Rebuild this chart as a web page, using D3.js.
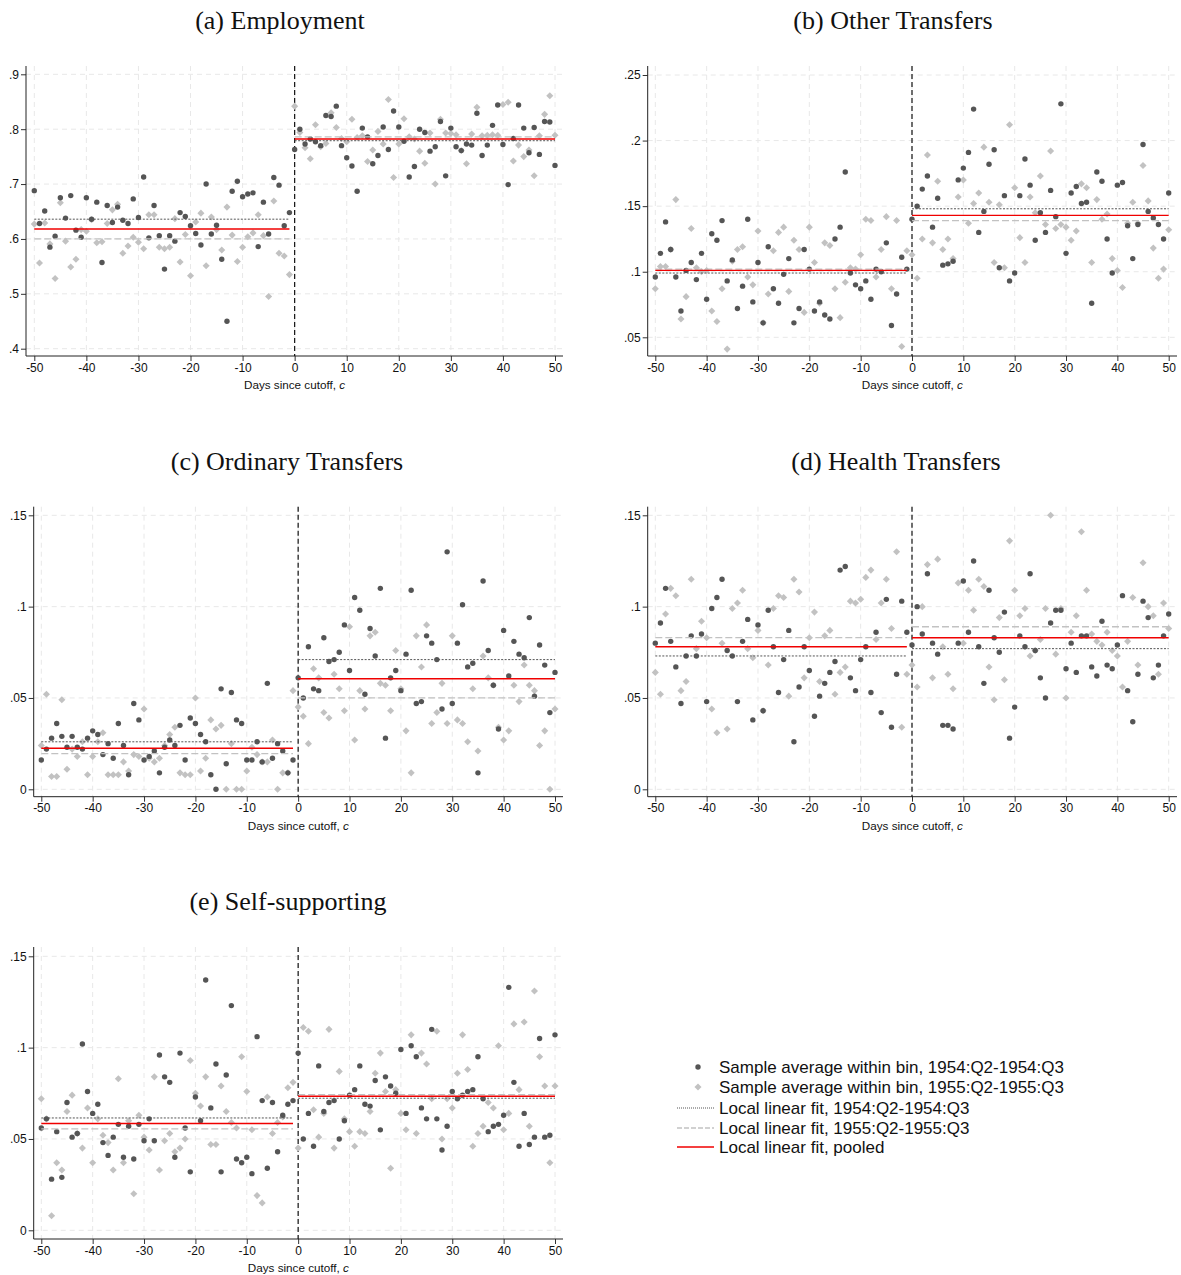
<!DOCTYPE html>
<html>
<head>
<meta charset="utf-8">
<script src="https://cdn.jsdelivr.net/npm/d3@7"></script>
<style>
  body { margin: 0; background: #fff; }
  svg { display: block; }
  .tick text { font-family: "Liberation Sans", Arial, sans-serif; font-size: 12px; fill: #111; }
  .tick line { stroke: #333; }
</style>
</head>
<body>
<div id="viz"></div>
<script>
// days since cutoff, -50 .. 50
const DAYS = d3.range(-50, 51);
const X_TICKS = [-50, -40, -30, -20, -10, 0, 10, 20, 30, 40, 50];

// (a) Employment
const empDark = [.688,.628,.651,.585,.605,.675,.638,.679,.616,.603,
  .675,.636,.667,.557,.661,.630,.658,.634,.628,.673,
  .639,.713,.602,.661,.606,.545,.606,.596,.648,.641,
  .624,.610,.589,.700,.609,.625,.563,.450,.687,.705,
  .677,.682,.684,.586,.667,.609,.712,.698,.624,.648,
  .763,
  .800,.773,.782,.777,.770,.825,.823,.842,.770,.748,
  .733,.687,.802,.786,.737,.752,.804,.763,.833,.804,
  .778,.713,.732,.800,.794,.760,.768,.814,.715,.802,
  .768,.761,.773,.771,.829,.752,.771,.807,.844,.772,
  .699,.783,.844,.802,.757,.803,.754,.814,.813,.734];
const empLight = [.627,.556,.629,.591,.528,.666,.596,.549,.563,.617,
  .614,.635,.593,.595,.628,.653,.663,.574,.587,.603,
  .594,.582,.644,.644,.585,.582,.585,.637,.558,.608,
  .533,.631,.647,.551,.640,.617,.580,.658,.607,.559,
  .585,.604,.611,.644,.606,.495,.669,.574,.569,.535,
  .842,
  .794,.766,.746,.808,.768,.774,.830,.803,.783,.777,
  .818,.785,.788,.741,.762,.796,.773,.854,.712,.773,
  .819,.786,.782,.760,.738,.793,.700,.818,.793,.792,
  .790,.761,.737,.791,.840,.788,.789,.790,.789,.845,
  .849,.742,.771,.750,.762,.715,.788,.827,.861,.789];
const empFitDark = [.636, .779];
const empFitLight = [.600, .786];
const empFitPooled = [.618, .782];
const empTicks = [.4, .5, .6, .7, .8, .9];

// (b) Other Transfers
const othDark = [.096,.114,.138,.117,.096,.070,.101,.107,.094,.114,
  .079,.129,.124,.139,.093,.109,.072,.089,.140,.077,
  .107,.061,.119,.087,.076,.098,.110,.061,.072,.117,
  .102,.070,.077,.067,.064,.125,.134,.176,.099,.090,
  .087,.093,.079,.102,.100,.122,.059,.083,.111,.102,
  .140,
  .150,.163,.173,.134,.156,.105,.106,.108,.170,.179,
  .191,.224,.130,.146,.182,.193,.103,.158,.093,.099,
  .158,.186,.166,.124,.145,.130,.162,.142,.228,.114,
  .160,.165,.152,.153,.076,.176,.169,.125,.099,.166,
  .168,.135,.110,.136,.197,.146,.141,.136,.125,.160];
const othLight = [.087,.104,.104,.117,.155,.064,.081,.133,.103,.100,
  .101,.070,.062,.087,.041,.108,.117,.119,.096,.090,
  .131,.061,.083,.116,.130,.134,.085,.124,.117,.069,
  .134,.107,.076,.122,.120,.087,.065,.092,.103,.102,
  .113,.140,.139,.096,.117,.142,.087,.139,.043,.116,
  .113,
  .095,.125,.189,.122,.169,.117,.125,.110,.157,.170,
  .137,.152,.160,.195,.153,.107,.151,.103,.212,.164,
  .126,.107,.157,.145,.173,.136,.192,.133,.136,.134,
  .124,.131,.167,.164,.107,.155,.140,.144,.110,.101,
  .088,.137,.153,.137,.181,.154,.118,.095,.102,.132];
const othFitDark = [.099, .148];
const othFitLight = [.102, .139];
const othFitPooled = [.101, .143];
const othTicks = [.05, .1, .15, .2, .25];

// (c) Ordinary Transfers
const ordDark = [.016,.022,.028,.036,.029,.023,.029,.023,.022,.028,
  .032,.030,.019,.025,.017,.036,.024,.008,.047,.038,
  .016,.018,.021,.009,.023,.027,.024,.035,.016,.039,
  .036,.030,.026,.008,.000,.055,.014,.053,.038,.036,
  .016,.016,.026,.015,.058,.017,.025,.021,.009,.016,
  .061,
  .050,.078,.055,.054,.083,.070,.071,.075,.090,.065,
  .105,.098,.052,.088,.073,.110,.028,.061,.065,.054,
  .074,.109,.047,.048,.084,.080,.071,.044,.130,.047,
  .080,.101,.067,.069,.009,.114,.076,.057,.033,.087,
  .062,.081,.074,.072,.094,.051,.079,.068,.042,.064];
const ordLight = [.024,.052,.007,.007,.049,.011,.022,.018,.026,.008,
  .018,.026,.031,.008,.008,.008,.015,.010,.019,.018,
  .044,.017,.015,.017,.024,.030,.034,.009,.008,.008,
  .050,.010,.017,.038,.033,.035,.000,.025,.000,.000,
  .010,.023,.019,.015,.015,.027,.000,.009,.009,.054,
  .045,
  .040,.025,.066,.061,.042,.039,.063,.055,.043,.089,
  .027,.054,.044,.084,.086,.058,.057,.043,.076,.055,
  .032,.009,.084,.067,.090,.036,.042,.058,.036,.084,
  .038,.036,.026,.055,.021,.073,.061,.057,.034,.027,
  .032,.057,.048,.068,.057,.054,.024,.032,.000,.044];
const ordFitDark = [.026, .071];
const ordFitLight = [.0195, .050];
const ordFitPooled = [.0225, .0605];

// (d) Health Transfers
const hltDark = [.080,.091,.110,.081,.067,.047,.073,.084,.073,.085,
  .048,.099,.105,.115,.076,.073,.048,.081,.093,.038,
  .090,.043,.098,.078,.053,.071,.087,.026,.056,.078,
  .065,.040,.051,.058,.064,.070,.120,.122,.061,.054,
  .071,.078,.053,.086,.042,.104,.034,.063,.103,.086,
  .079,
  .100,.085,.118,.080,.074,.035,.035,.033,.080,.114,
  .086,.125,.078,.058,.109,.083,.075,.097,.028,.045,
  .084,.078,.118,.076,.061,.050,.091,.098,.098,.066,
  .080,.064,.084,.084,.067,.062,.092,.068,.066,.079,
  .106,.054,.037,.063,.103,.094,.061,.068,.084,.096];
const hltLight = [.064,.052,.096,.110,.106,.054,.059,.115,.077,.092,
  .083,.044,.031,.080,.033,.099,.102,.109,.077,.072,
  .087,.043,.068,.099,.106,.105,.051,.115,.108,.061,
  .083,.097,.059,.084,.087,.052,.064,.067,.103,.102,
  .104,.116,.120,.082,.102,.115,.088,.130,.034,.063,
  .068,
  .056,.100,.123,.061,.126,.078,.063,.055,.113,.080,
  .109,.098,.115,.111,.067,.049,.094,.060,.136,.109,
  .095,.099,.073,.076,.082,.099,.150,.074,.099,.050,
  .086,.095,.141,.109,.085,.081,.079,.086,.076,.073,
  .056,.081,.105,.068,.124,.100,.095,.063,.102,.088];
const hltFitDark = [.073, .077];
const hltFitLight = [.083, .089];
const hltFitPooled = [.078, .083];

// (e) Self-supporting
const selfDark = [.056,.061,.028,.054,.029,.070,.051,.053,.102,.076,
  .064,.069,.048,.041,.051,.058,.040,.057,.039,.058,
  .049,.061,.049,.096,.084,.081,.040,.097,.056,.032,
  .073,.060,.137,.067,.091,.032,.085,.123,.039,.037,
  .040,.031,.106,.071,.034,.070,.043,.063,.069,.071,
  .097,
  .050,.064,.046,.090,.065,.070,.071,.050,.060,.074,
  .077,.090,.069,.068,.082,.055,.084,.079,.075,.099,
  .064,.101,.095,.067,.061,.110,.061,.044,.057,.076,
  .072,.074,.076,.077,.095,.072,.054,.057,.058,.063,
  .133,.081,.046,.064,.047,.051,.105,.051,.052,.107];
const selfLight = [.072,.061,.008,.037,.033,.065,.074,.053,.045,.067,
  .037,.061,.052,.048,.033,.083,.037,.060,.020,.063,
  .051,.044,.084,.033,.049,.053,.043,.045,.050,.093,
  .075,.068,.084,.047,.047,.079,.065,.059,.056,.095,
  .076,.055,.019,.015,.073,.053,.059,.062,.078,.081,
  .045,
  .111,.109,.066,.051,.064,.110,.045,.087,.061,.054,
  .046,.054,.053,.065,.086,.097,.076,.034,.077,.064,
  .055,.107,.053,.097,.091,.072,.109,.050,.072,.067,
  .086,.107,.088,.046,.053,.057,.070,.067,.101,.055,
  .064,.113,.077,.114,.057,.131,.095,.079,.037,.079];
const selfFitDark = [.0615, .0723];
const selfFitLight = [.0555, .0743];
const selfFitPooled = [.0585, .0734];
const smallTicks = [0, .05, .1, .15];

const LEGEND_LABELS = [
  "Sample average within bin, 1954:Q2-1954:Q3",
  "Sample average within bin, 1955:Q2-1955:Q3",
  "Local linear fit, 1954:Q2-1954:Q3",
  "Local linear fit, 1955:Q2-1955:Q3",
  "Local linear fit, pooled"
];

const DARK = "#555555";
const LIGHT = "#c2c2c2";
const RED = "#f00000";

// panel frames (pixels)
const PANELS = [
  {title: "(a) Employment", tx: 280, ty: 29, dark: empDark, light: empLight,
   fits: [empFitDark, empFitLight, empFitPooled], ticks: empTicks,
   xr: [34.3, 555], yr: [348.7, 74.3], axisX: 26, top: 66, bottom: 356, right: 563},
  {title: "(b) Other Transfers", tx: 893, ty: 29, dark: othDark, light: othLight,
   fits: [othFitDark, othFitLight, othFitPooled], ticks: othTicks,
   xr: [655.3, 1168.7], yr: [337.3, 75], axisX: 647.7, top: 66, bottom: 356, right: 1177},
  {title: "(c) Ordinary Transfers", tx: 287, ty: 470, dark: ordDark, light: ordLight,
   fits: [ordFitDark, ordFitLight, ordFitPooled], ticks: smallTicks,
   xr: [41.3, 555], yr: [789.3, 515.3], axisX: 33.7, top: 506.7, bottom: 796.7, right: 563},
  {title: "(d) Health Transfers", tx: 896, ty: 470, dark: hltDark, light: hltLight,
   fits: [hltFitDark, hltFitLight, hltFitPooled], ticks: smallTicks,
   xr: [655.3, 1168.7], yr: [789.3, 515.3], axisX: 647.7, top: 506.7, bottom: 796.7, right: 1177},
  {title: "(e) Self-supporting", tx: 288, ty: 910, dark: selfDark, light: selfLight,
   fits: [selfFitDark, selfFitLight, selfFitPooled], ticks: smallTicks,
   xr: [41.3, 555], yr: [1230.3, 956.3], axisX: 33.7, top: 947, bottom: 1239, right: 563}
];

const SVG = d3.select("#viz").append("svg")
  .attr("width", 1181).attr("height", 1275);
SVG.append("rect").attr("width", 1181).attr("height", 1275).attr("fill", "#fff");

const yFmt = (v) => v === 0 ? "0" : d3.format("~g")(v).replace(/^0\./, ".");
const xFmt = (v) => String(v);   // plain hyphen for negatives, as in the original
const diamond = d3.symbol().type(d3.symbolSquare).size(25);

PANELS.forEach((p) => {
  const X_SCALE = d3.scaleLinear().domain([-50, 50]).range(p.xr);
  const Y_SCALE = d3.scaleLinear().domain(d3.extent(p.ticks)).range(p.yr);
  const g = SVG.append("g");

  // gridlines
  g.selectAll(".vgrid").data(X_TICKS).enter().append("line")
    .attr("x1", d => X_SCALE(d)).attr("x2", d => X_SCALE(d))
    .attr("y1", p.top).attr("y2", p.bottom)
    .attr("stroke", "#e8e8e8").attr("stroke-dasharray", "5,4");
  g.selectAll(".hgrid").data(p.ticks).enter().append("line")
    .attr("x1", p.axisX).attr("x2", p.right)
    .attr("y1", d => Y_SCALE(d)).attr("y2", d => Y_SCALE(d))
    .attr("stroke", "#e8e8e8").attr("stroke-dasharray", "5,4");

  // axes
  const xa = g.append("g").attr("transform", "translate(0," + p.bottom + ")")
    .call(d3.axisBottom(X_SCALE).tickValues(X_TICKS).tickFormat(xFmt).tickSize(5).tickPadding(2));
  xa.select(".domain").remove();
  const ya = g.append("g").attr("transform", "translate(" + p.axisX + ",0)")
    .call(d3.axisLeft(Y_SCALE).tickValues(p.ticks).tickFormat(yFmt).tickSize(5).tickPadding(2));
  ya.select(".domain").remove();
  g.append("line").attr("x1", p.axisX).attr("x2", p.right)
    .attr("y1", p.bottom).attr("y2", p.bottom).attr("stroke", "#222");
  g.append("line").attr("x1", p.axisX).attr("x2", p.axisX)
    .attr("y1", p.top).attr("y2", p.bottom).attr("stroke", "#222");

  // cutoff
  g.append("line").attr("x1", X_SCALE(0)).attr("x2", X_SCALE(0))
    .attr("y1", p.top).attr("y2", p.bottom)
    .attr("stroke", "#111").attr("stroke-width", 1.2).attr("stroke-dasharray", "5,3");

  // points
  g.selectAll(".lt").data(DAYS).enter().append("path")
    .attr("d", diamond)
    .attr("transform", (d, i) => "translate(" + X_SCALE(d) + "," + Y_SCALE(p.light[i]) + ") rotate(45)")
    .attr("fill", LIGHT);
  g.selectAll(".dk").data(DAYS).enter().append("circle")
    .attr("cx", d => X_SCALE(d))
    .attr("cy", (d, i) => Y_SCALE(p.dark[i]))
    .attr("r", 2.7)
    .attr("fill", DARK);

  // local linear fits, left of cutoff and right of cutoff
  const styles = [
    {stroke: DARK, dash: "2,1.5", w: 1},
    {stroke: LIGHT, dash: "7,3", w: 1.3},
    {stroke: RED, dash: null, w: 1.4}
  ];
  p.fits.forEach((f, k) => {
    const s = styles[k];
    [[-50, -1, f[0]], [0, 50, f[1]]].forEach((seg) => {
      g.append("line")
        .attr("x1", X_SCALE(seg[0])).attr("x2", X_SCALE(seg[1]))
        .attr("y1", Y_SCALE(seg[2])).attr("y2", Y_SCALE(seg[2]))
        .attr("stroke", s.stroke).attr("stroke-width", s.w)
        .attr("stroke-dasharray", s.dash);
    });
  });

  // titles
  SVG.append("text").attr("x", p.tx).attr("y", p.ty)
    .attr("text-anchor", "middle")
    .attr("font-family", "'Liberation Serif', 'Times New Roman', serif")
    .attr("font-size", 26).attr("fill", "#111")
    .text(p.title);
  const xt = SVG.append("text")
    .attr("x", (p.axisX + p.right) / 2).attr("y", p.bottom + 33)
    .attr("text-anchor", "middle")
    .attr("font-family", "'Liberation Sans', Arial, sans-serif")
    .attr("font-size", 11.7).attr("fill", "#111");
  xt.append("tspan").text("Days since cutoff, ");
  xt.append("tspan").attr("font-style", "italic").text("c");
});

// legend
const LEG = SVG.append("g");
const legY = [1067, 1087, 1108, 1128, 1147];
LEG.append("circle").attr("cx", 698).attr("cy", legY[0]).attr("r", 2.7).attr("fill", DARK);
LEG.append("path").attr("d", diamond)
  .attr("transform", "translate(698," + legY[1] + ") rotate(45)").attr("fill", LIGHT);
LEG.append("line").attr("x1", 677).attr("x2", 714).attr("y1", legY[2]).attr("y2", legY[2])
  .attr("stroke", DARK).attr("stroke-dasharray", "1,1");
LEG.append("line").attr("x1", 677).attr("x2", 714).attr("y1", legY[3]).attr("y2", legY[3])
  .attr("stroke", LIGHT).attr("stroke-width", 1.3).attr("stroke-dasharray", "5,2");
LEG.append("line").attr("x1", 677).attr("x2", 714).attr("y1", legY[4]).attr("y2", legY[4])
  .attr("stroke", RED).attr("stroke-width", 1.4);
LEG.selectAll(".lab").data(LEGEND_LABELS).enter().append("text")
  .attr("x", 719).attr("y", (d, i) => legY[i] + 6)
  .attr("font-family", "'Liberation Sans', Arial, sans-serif")
  .attr("font-size", 17).attr("fill", "#111")
  .text(d => d);
</script>
</body>
</html>
